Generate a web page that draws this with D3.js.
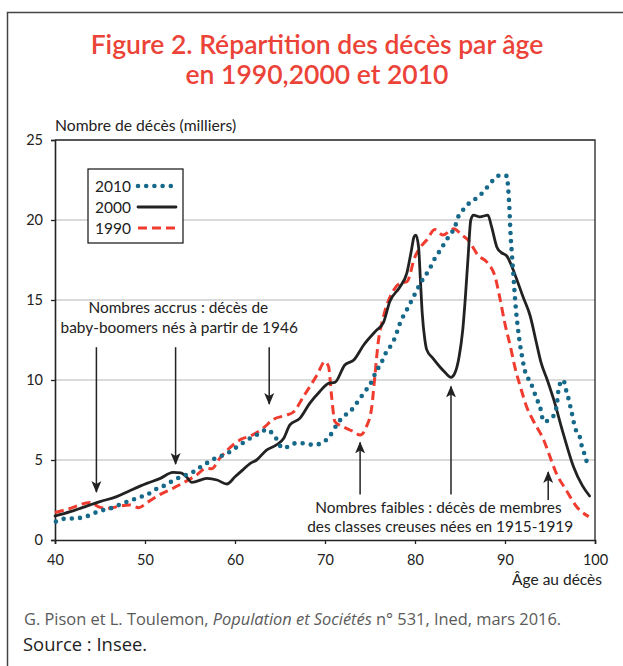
<!DOCTYPE html>
<html>
<head>
<meta charset="utf-8">
<script src="https://cdn.jsdelivr.net/npm/d3@7"></script>
<style>
  body { margin: 0; background: #fff; }
  text { font-family: Lato, "Open Sans", sans-serif; fill: #222; }
</style>
</head>
<body>
<svg id="chart"></svg>
<script>
// ---------- DATA ----------
const ages2010 = [40.1, 41.1, 42.1, 43.0, 44.0, 44.9, 45.8, 46.7, 47.5, 48.4, 49.3, 50.2, 51.0, 51.9, 52.7, 53.6, 54.5, 55.4, 56.2, 57.0, 57.8, 58.7, 59.6, 60.4, 61.1, 62.0, 62.8, 63.5, 64.3, 64.8, 65.2, 65.9, 66.8, 67.8, 68.7, 69.6, 70.4, 71.3, 72.0, 72.8, 73.3, 73.9, 74.4, 75.0, 75.4, 75.9, 76.5, 76.9, 77.4, 78.0, 78.3, 78.8, 79.3, 79.7, 80.1, 80.6, 81.1, 81.6, 82.0, 82.5, 83.0, 83.5, 83.9, 84.4, 84.8, 85.3, 86.0, 86.8, 87.5, 88.1, 88.7, 89.5, 90.2, 90.35, 90.5, 90.6, 90.75, 90.9, 91.05, 91.2, 91.4, 91.6, 91.85, 92.3, 92.8, 93.5, 93.9, 94.3, 95.0, 95.6, 95.8, 96.0, 96.5, 96.7, 97.0, 97.4, 97.8, 98.3, 98.5, 98.8, 99.1];
const deaths2010 = [1.15, 1.33, 1.35, 1.40, 1.58, 1.81, 1.92, 2.08, 2.29, 2.46, 2.67, 2.81, 3.12, 3.33, 3.58, 3.85, 4.06, 4.27, 4.58, 4.85, 5.10, 5.31, 5.56, 5.90, 6.15, 6.46, 6.67, 6.90, 6.56, 6.15, 5.75, 5.83, 6.06, 6.04, 5.94, 6.05, 6.40, 7.19, 7.71, 8.02, 8.39, 8.85, 9.27, 9.69, 10.2, 10.73, 11.35, 11.87, 12.2, 13.0, 13.5, 14.1, 14.6, 15.05, 15.5, 16.04, 16.5, 16.9, 17.4, 17.85, 18.3, 18.75, 19.1, 19.5, 20.2, 20.6, 21.04, 21.35, 21.7, 22.1, 22.5, 22.8, 22.75, 22.0, 20.6, 19.3, 18.0, 16.8, 15.6, 14.5, 13.4, 12.5, 11.6, 10.4, 9.9, 8.85, 8.3, 7.4, 7.54, 8.0, 8.65, 9.6, 10.0, 9.54, 8.96, 8.0, 6.98, 6.46, 5.94, 5.42, 4.86];

const ages2000 = [40, 41.7, 43.1, 45.0, 46.85, 48.3, 50.2, 51.7, 53.1, 54.0, 54.6, 55.2, 56.9, 58.0, 59.1, 60.0, 60.9, 61.7, 62.4, 63.5, 64.6, 65.4, 66.1, 67.2, 68.3, 69.4, 70.4, 71.1, 72.2, 73.2, 74.3, 75.7, 76.5, 77.2, 78.3, 79.1, 79.6, 79.9, 80.1, 80.4, 80.6, 80.8, 81.1, 81.3, 82.0, 82.8, 83.3, 84.0, 84.4, 84.9, 85.3, 85.6, 85.9, 86.2, 86.5, 87.2, 88.1, 88.5, 89.1, 89.6, 90.2, 91.1, 92.0, 92.8, 93.5, 94.0, 94.7, 95.4, 96.5, 97.6, 98.6, 99.4];
const deaths2000 = [1.5, 1.77, 2.04, 2.40, 2.71, 3.08, 3.54, 3.85, 4.23, 4.2, 3.95, 3.6, 3.85, 3.75, 3.5, 3.95, 4.4, 4.79, 5.0, 5.62, 5.94, 6.35, 7.19, 7.6, 8.54, 9.27, 9.79, 9.85, 10.94, 11.25, 12.19, 13.1, 13.6, 14.9, 15.8, 16.7, 18.1, 18.96, 19.06, 18.3, 16.25, 14.2, 12.5, 11.9, 11.35, 10.8, 10.5, 10.17, 10.4, 11.46, 13.1, 15.2, 17.7, 20.0, 20.3, 20.2, 20.3, 19.6, 18.3, 17.96, 17.75, 16.6, 15.2, 14.0, 12.3, 11.1, 10.0, 8.8, 6.6, 4.6, 3.4, 2.75];

const ages1990 = [40, 41.7, 43.9, 45.0, 45.9, 47.2, 48.3, 49.3, 50.2, 51.7, 53.1, 54.5, 55.7, 56.8, 57.4, 58.3, 59.5, 60.7, 61.7, 63.1, 64.3, 65.7, 66.5, 67.6, 69.1, 70.0, 70.4, 70.7, 71.1, 72.0, 73.2, 73.9, 74.6, 75.2, 75.5, 75.9, 76.5, 77.6, 78.3, 79.1, 80.0, 80.6, 81.3, 82.2, 83.1, 84.3, 85.2, 85.9, 87.0, 88.1, 88.9, 89.4, 90.0, 90.6, 91.1, 91.7, 92.4, 93.1, 94.3, 95.0, 95.7, 96.8, 97.96, 99.3];
const deaths1990 = [1.71, 1.98, 2.35, 2.04, 1.98, 2.12, 2.19, 2.02, 2.33, 2.85, 3.23, 3.65, 4.05, 4.48, 4.45, 5.1, 5.8, 6.3, 6.5, 6.98, 7.55, 7.8, 8.0, 8.96, 10.3, 11.15, 10.83, 9.17, 7.4, 7.08, 6.77, 6.56, 7.08, 8.33, 10.0, 12.3, 13.96, 15.6, 16.04, 16.15, 17.7, 18.3, 18.75, 19.4, 19.06, 19.45, 19.06, 18.75, 17.8, 17.3, 16.46, 15.2, 13.5, 12.1, 10.8, 9.6, 8.33, 7.5, 6.25, 5.2, 4.17, 3.12, 2.08, 1.46];

const legendLabels = ["2010", "2000", "1990"];
const yTicks = [0, 5, 10, 15, 20, 25];
const xTicks = [40, 50, 60, 70, 80, 90, 100];
const gridValues = [5, 10, 15, 20];

// arrows: age, start value, tip value
const downArrows = [[44.6, 12.05, 3.0], [53.4, 12.05, 4.75], [63.8, 12.05, 8.5]];
const upArrows = [[73.9, 2.85, 6.1], [84.0, 2.85, 9.6], [94.8, 2.5, 4.25]];

// ---------- LAYOUT ----------
const width = 623, height = 666;
const margin = { top: 140, right: 28, bottom: 126, left: 55 };
const red = "#f03b2f", teal = "#17698a", black = "#222";

const svg = d3.select("#chart").attr("width", width).attr("height", height);

// outer frame (left and top edges are visible)
svg.append("path")
  .attr("d", `M7.5,${height} V12.5 H${width}`)
  .attr("fill", "none").attr("stroke", "#444").attr("stroke-width", 1.5);

// title
const title = svg.append("text")
  .attr("text-anchor", "middle")
  .style("font-size", "26.5px").style("font-weight", 600).style("fill", "#ec4338");
title.append("tspan").attr("x", 317).attr("y", 54).text("Figure 2. Répartition des décès par âge");
title.append("tspan").attr("x", 317).attr("y", 84).text("en 1990,2000 et 2010");

const x = d3.scaleLinear().domain([40, 100]).range([margin.left, width - margin.right]);
const y = d3.scaleLinear().domain([0, 25]).range([height - margin.bottom, margin.top]);

// gridlines
svg.append("g").selectAll("line").data(gridValues).join("line")
  .attr("x1", x(40)).attr("x2", x(100))
  .attr("y1", d => y(d)).attr("y2", d => y(d))
  .attr("stroke", "#b5b5b5").attr("stroke-width", 1.2);

// frame top and right
svg.append("path")
  .attr("d", `M${x(40)},${y(25)} H${x(100)} V${y(0)}`)
  .attr("fill", "none").attr("stroke", black).attr("stroke-width", 1.3);

// axes
const yAxis = svg.append("g")
  .attr("transform", `translate(${x(40)},0)`)
  .call(d3.axisLeft(y).tickValues(yTicks).tickSize(4).tickPadding(8));
const xAxis = svg.append("g")
  .attr("transform", `translate(0,${y(0)})`)
  .call(d3.axisBottom(x).tickValues(xTicks).tickSize(4).tickPadding(11));
[xAxis, yAxis].forEach(g => {
  g.select(".domain").attr("stroke", black).attr("stroke-width", 1.6);
  g.selectAll(".tick line").attr("stroke", black).attr("stroke-width", 1.3);
  g.selectAll(".tick text").style("font-size", "14.5px").style("fill", "#222")
    .style("font-family", "Lato, sans-serif");
});

// axis titles
svg.append("text").attr("x", 55).attr("y", 131)
  .style("font-size", "15.7px").text("Nombre de décès (milliers)");
svg.append("text").attr("x", 602).attr("y", 585).attr("text-anchor", "end")
  .style("font-size", "15.5px").text("Âge au décès");

// series
const line = d3.line().x(d => x(d[0])).y(d => y(d[1])).curve(d3.curveMonotoneX);
const series = [
  { ages: ages1990, vals: deaths1990, color: red, width: 3, dash: "9 5", cap: "butt" },
  { ages: ages2000, vals: deaths2000, color: black, width: 2.8, dash: null, cap: "round" },
  { ages: ages2010, vals: deaths2010, color: teal, width: 4.6, dash: "0 8.2", cap: "round" }
];
series.forEach(s => {
  svg.append("path")
    .datum(d3.zip(s.ages, s.vals))
    .attr("d", line)
    .attr("fill", "none")
    .attr("stroke", s.color)
    .attr("stroke-width", s.width)
    .attr("stroke-dasharray", s.dash)
    .attr("stroke-linecap", s.cap)
    .attr("stroke-linejoin", "round");
});

// legend
const lg = svg.append("g").attr("transform", "translate(88,169)");
lg.append("rect").attr("width", 95).attr("height", 74)
  .attr("fill", "#fff").attr("stroke", "#111").attr("stroke-width", 1.2);
const legendStyles = [series[2], series[1], series[0]];
legendLabels.forEach((lab, i) => {
  const cy = 17 + i * 21;
  lg.append("text").attr("x", 7).attr("y", cy + 5.5).style("font-size", "15.5px").text(lab);
  const s = legendStyles[i];
  lg.append("line").attr("x1", 50).attr("x2", 88).attr("y1", cy).attr("y2", cy)
    .attr("stroke", s.color).attr("stroke-width", s.width)
    .attr("stroke-dasharray", s.dash).attr("stroke-linecap", s.cap);
});

// arrow marker
svg.append("defs").append("marker")
  .attr("id", "head").attr("viewBox", "0 0 12 12")
  .attr("refX", 11).attr("refY", 6)
  .attr("markerWidth", 12).attr("markerHeight", 12)
  .attr("markerUnits", "userSpaceOnUse")
  .attr("orient", "auto")
  .append("path").attr("d", "M0,1 L12,6 L0,11 L3,6 Z").attr("fill", "#222");

svg.append("g").selectAll("line").data(downArrows.concat(upArrows)).join("line")
  .attr("x1", d => x(d[0])).attr("x2", d => x(d[0]))
  .attr("y1", d => y(d[1])).attr("y2", d => y(d[2]))
  .attr("stroke", "#222").attr("stroke-width", 1.5)
  .attr("marker-end", "url(#head)");

// annotation texts
const note1 = svg.append("text").attr("text-anchor", "middle").style("font-size", "15.4px");
note1.append("tspan").attr("x", x(53.7)).attr("y", y(14.19)).text("Nombres accrus : décès de");
note1.append("tspan").attr("x", x(53.8)).attr("y", y(12.94)).text("baby-boomers nés à partir de 1946");
const note2 = svg.append("text").attr("text-anchor", "middle").style("font-size", "15.4px");
note2.append("tspan").attr("x", x(82.6)).attr("y", y(1.67)).text("Nombres faibles : décès de membres");
note2.append("tspan").attr("x", x(82.8)).attr("y", y(0.48)).text("des classes creuses nées en 1915-1919");

// footer
const foot = svg.append("text").attr("x", 24).attr("y", 625)
  .style("font-family", "'Open Sans', sans-serif")
  .style("font-size", "16.4px").style("fill", "#5a5a5a");
foot.append("tspan").text("G. Pison et L. Toulemon, ");
foot.append("tspan").style("font-style", "italic").text("Population et Sociétés");
foot.append("tspan").text(" n° 531, Ined, mars 2016.");
svg.append("text").attr("x", 23).attr("y", 651)
  .style("font-family", "'Open Sans', sans-serif")
  .style("font-size", "18.4px").style("fill", "#222").text("Source : Insee.");
</script>
</body>
</html>
